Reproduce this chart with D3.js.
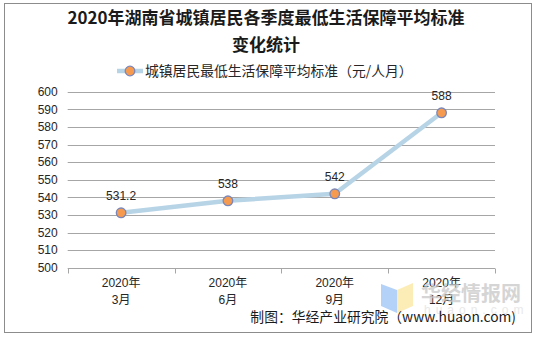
<!DOCTYPE html>
<html><head><meta charset="utf-8">
<script src="https://cdn.jsdelivr.net/npm/d3@7"></script>
<style>
html,body{margin:0;padding:0;background:#fff;}
svg{display:block;font-family:"Liberation Sans","Noto Sans CJK SC",Arial,sans-serif;}
</style></head>
<body><svg id="c" width="536" height="339"></svg>
<script>
const titleLines = ["2020年湖南省城镇居民各季度最低生活保障平均标准", "变化统计"];
const seriesName = "城镇居民最低生活保障平均标准（元/人月）";
const categories = ["2020年\n3月", "2020年\n6月", "2020年\n9月", "2020年\n12月"];
const values = [531.2, 538, 542, 588];
const valueLabels = ["531.2", "538", "542", "588"];
const yTicks = [500, 510, 520, 530, 540, 550, 560, 570, 580, 590, 600];
const sourceText = "制图：华经产业研究院（www.huaon.com)";

const svg = d3.select("#c");
const m = {left: 67.7, right: 495, top: 91.7, bottom: 267.7};

// outer border
svg.append("rect").attr("x", 4.5).attr("y", 3.5).attr("width", 527).attr("height", 329)
  .attr("fill", "#fff").attr("stroke", "#8c8c8c").attr("stroke-width", 1);

// title
const t = svg.append("text").attr("text-anchor", "middle")
  .attr("font-family", "'Noto Sans CJK SC',sans-serif").attr("font-weight", "bold")
  .attr("font-size", 17).attr("fill", "#1a1a1a");
titleLines.forEach((s, i) => t.append("tspan").attr("x", 266).attr("y", 24 + i * 27).text(s));

const x = d3.scaleBand().domain(categories).range([m.left, m.right]).padding(0);
const y = d3.scaleLinear().domain([500, 600]).range([m.bottom, m.top]);

// gridlines
svg.append("g").selectAll("line").data(yTicks.filter(v => v !== 500)).join("line")
  .attr("x1", m.left).attr("x2", m.right)
  .attr("y1", d => Math.round(y(d)) + 0.5).attr("y2", d => Math.round(y(d)) + 0.5)
  .attr("stroke", "#a6a6a6").attr("stroke-width", 1);

// y axis labels
const yAxis = d3.axisLeft(y).tickValues(yTicks).tickSize(0).tickPadding(10);
const gy = svg.append("g").attr("transform", `translate(${m.left},0)`).call(yAxis);
gy.select(".domain").remove();
gy.selectAll("text").attr("font-size", 12).attr("fill", "#262626")
  .attr("font-family", "'Liberation Sans',Arial,sans-serif");

// x axis
const gx = svg.append("g").attr("transform", `translate(0,${Math.round(y(500)) + 0.5})`);
gx.append("line").attr("x1", m.left).attr("x2", m.right).attr("stroke", "#a6a6a6");
const bounds = categories.map(c => x(c)).concat([m.right]);
gx.selectAll("line.tk").data(bounds).join("line").attr("class", "tk")
  .attr("x1", d => Math.round(d) + 0.5).attr("x2", d => Math.round(d) + 0.5)
  .attr("y1", 0).attr("y2", 5).attr("stroke", "#a6a6a6");
gx.selectAll("text.xl").data(categories).join("text").attr("class", "xl")
  .attr("text-anchor", "middle").attr("font-size", 12).attr("fill", "#262626")
  .each(function(d) {
    const parts = d.split("\n");
    const el = d3.select(this);
    parts.forEach((p, i) => el.append("tspan")
      .attr("x", x(d) + x.bandwidth() / 2).attr("y", 18 + i * 17).text(p));
  });

// watermark
const wm = svg.append("g").attr("opacity", 0.75);
wm.append("path").attr("d", "M381,284 L397,290 L397,313 L381,306 Z").attr("fill", "#9cc3f5");
wm.append("path").attr("d", "M397,290 L413,283 L413,306 L397,313 Z").attr("fill", "#fbe7a0");
wm.append("text").attr("x", 421).attr("y", 301).attr("font-size", 20).attr("font-weight", "bold")
  .attr("font-family", "'Noto Sans CJK SC',sans-serif").attr("fill", "#c8c8c8").text("华经情报网");
wm.append("text").attr("x", 424).attr("y", 314).attr("font-size", 12).attr("letter-spacing", 5)
  .attr("fill", "#e2e2e2").text("huaon.com");

// line
const cx = d => x(d) + x.bandwidth() / 2;
svg.append("path").datum(values)
  .attr("d", d3.line().x((d, i) => cx(categories[i])).y(d => y(d)))
  .attr("fill", "none").attr("stroke", "#b7d4e6").attr("stroke-width", 4.5)
  .attr("stroke-linejoin", "round");

// markers
svg.append("g").selectAll("circle").data(values).join("circle")
  .attr("cx", (d, i) => cx(categories[i])).attr("cy", d => y(d)).attr("r", 4.8)
  .attr("fill", "#f59a4f").attr("stroke", "#7c87b8").attr("stroke-width", 1.3);

// data labels
svg.append("g").selectAll("text").data(values).join("text")
  .attr("x", (d, i) => cx(categories[i])).attr("y", d => y(d) - 12.5)
  .attr("text-anchor", "middle").attr("font-size", 12).attr("fill", "#262626")
  .attr("font-family", "'Liberation Sans',Arial,sans-serif")
  .text((d, i) => valueLabels[i]);

// legend
const lg = svg.append("g");
lg.append("line").attr("x1", 117).attr("x2", 143).attr("y1", 71).attr("y2", 71)
  .attr("stroke", "#b7d4e6").attr("stroke-width", 4.5);
lg.append("circle").attr("cx", 130).attr("cy", 71).attr("r", 4.8)
  .attr("fill", "#f59a4f").attr("stroke", "#7c87b8").attr("stroke-width", 1.3);
lg.append("text").attr("x", 145).attr("y", 76).attr("font-size", 13.8).attr("fill", "#262626")
  .attr("font-family", "'Noto Sans CJK SC',sans-serif").text(seriesName);

// source
svg.append("text").attr("x", 516).attr("y", 322).attr("text-anchor", "end")
  .attr("font-size", 13.8).attr("fill", "#1a1a1a")
  .attr("font-family", "'Noto Sans CJK SC',sans-serif").text(sourceText);
</script></body></html>
